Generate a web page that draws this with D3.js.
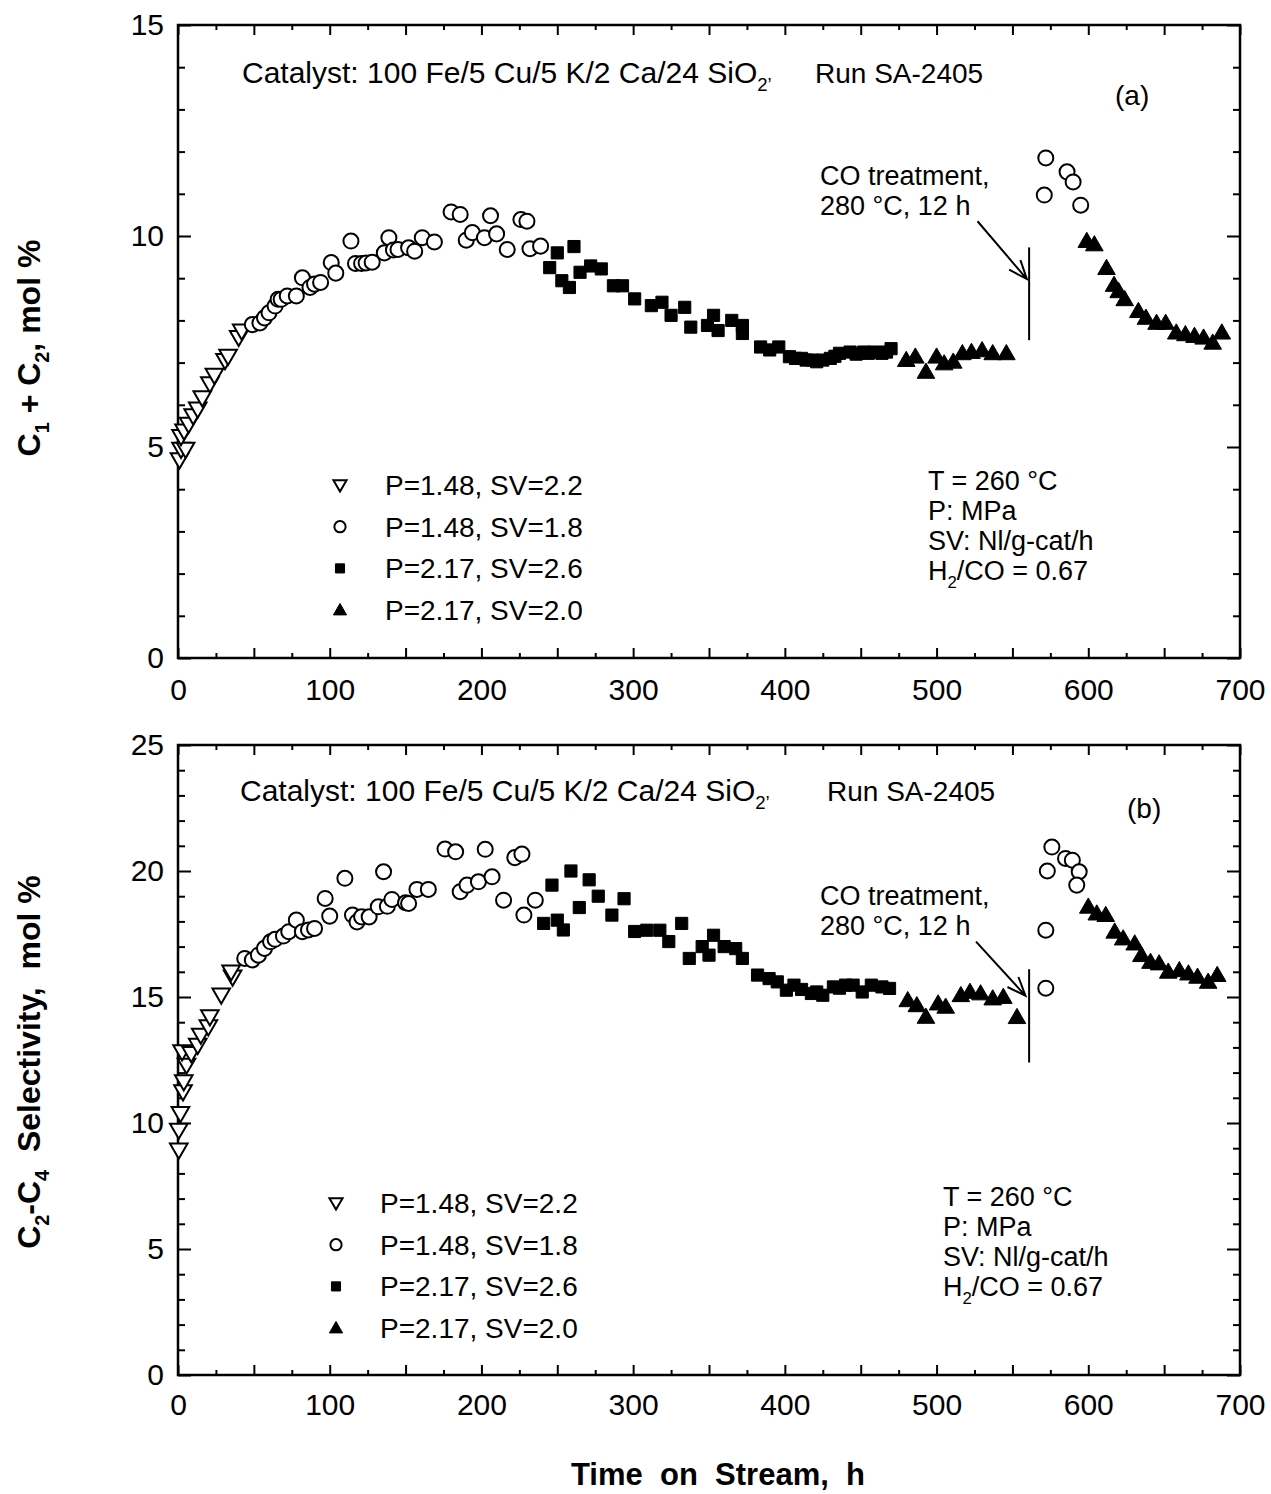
<!DOCTYPE html>
<html>
<head>
<meta charset="utf-8">
<script src="https://cdn.jsdelivr.net/npm/d3@7"></script>
<style>
  body { margin: 0; background: #fff; }
  svg { display: block; }
  text { font-family: "Liberation Sans", Arial, Helvetica, sans-serif; fill: #000; }
</style>
</head>
<body>
<svg id="chart" width="1271" height="1494"></svg>
<script>
// ── Data ─────────────────────────────────────────────────────────────────────
const xTickLabels = [0, 100, 200, 300, 400, 500, 600, 700];
const yTicksA = [0, 5, 10, 15];
const yTicksB = [0, 5, 10, 15, 20, 25];
const legendLabels = ["P=1.48, SV=2.2", "P=1.48, SV=1.8", "P=2.17, SV=2.6", "P=2.17, SV=2.0"];
const conditionLines = ["T = 260 °C", "P: MPa", "SV: Nl/g-cat/h", "H2/CO = 0.67"];

// panel (a): C1 + C2, mol %   [time on stream h, value]
const aSeries1 = [[1,4.7],[2,4.95],[5,4.95],[2,5.25],[4,5.38],[7,5.54],[10,5.74],[13,5.9],[16,6.17],
  [21,6.5],[24,6.7],[31,7.05],[33,7.15],[40,7.6],[42,7.75]];
const aSeries2 = [[49,7.9],[54,7.94],[57,8.06],[60,8.18],[64,8.34],[66,8.5],[68,8.5],[72,8.58],[78,8.58],
  [82,9.01],[87,8.78],[90,8.86],[94,8.9],[101,9.37],[104,9.12],[114,9.88],[117,9.35],[121,9.35],[124,9.36],
  [128,9.38],[136,9.6],[139,9.96],[142,9.67],[145,9.68],[152,9.72],[156,9.64],[161,9.96],[169,9.86],
  [180,10.57],[186,10.51],[190,9.9],[194,10.08],[202,9.96],[206,10.48],[210,10.05],[217,9.68],[226,10.39],
  [230,10.35],[232,9.7],[239,9.76],
  [572,11.85],[571,10.97],[586,11.52],[590,11.28],[595,10.73]];
const aSeries3 = [[245,9.25],[250,9.6],[253,8.94],[258,8.78],[261,9.75],[265,9.14],[272,9.29],[279,9.22],
  [287,8.82],[293,8.82],[301,8.51],[312,8.35],[319,8.43],[325,8.12],[334,8.31],[338,7.84],[349,7.88],
  [353,8.12],[356,7.76],[365,8.0],[372,7.88],[372,7.69],[384,7.37],[390,7.3],[396,7.37],[403,7.14],
  [407,7.1],[411,7.1],[414,7.06],[418,7.06],[421,7.02],[425,7.06],[430,7.1],[433,7.15],[436,7.22],
  [443,7.25],[447,7.2],[452,7.25],[455,7.22],[459,7.25],[464,7.22],[467,7.25],[470,7.33]];
const aSeries4 = [[480,7.06],[486,7.14],[493,6.78],[500,7.14],[505,6.98],[511,7.02],[517,7.22],[523,7.25],
  [530,7.29],[537,7.22],[546,7.22],
  [599,9.88],[604,9.8],[612,9.24],[617,8.84],[620,8.69],[624,8.5],[633,8.22],[638,8.06],[645,7.94],
  [651,7.94],[658,7.71],[664,7.67],[670,7.63],[676,7.59],[682,7.47],[688,7.71]];

// panel (b): C2-C4 selectivity, mol %
const bSeries1 = [[0.5,8.93],[0.5,9.72],[1.6,10.38],[3.3,11.24],[3.8,11.64],[5.6,12.3],[2.7,12.83],
  [8.7,12.76],[13,13.09],[15,13.49],[20,13.82],[21,14.22],[28.5,15.08],[36,15.8],[35,16.0]];
const bSeries2 = [[44,16.53],[49,16.47],[53,16.66],[57,16.93],[61,17.19],[64,17.29],[69.5,17.42],[73,17.59],
  [78,18.05],[82,17.59],[86,17.66],[90,17.72],[97,18.91],[100,18.21],[110,19.71],[115,18.25],[118,17.98],
  [121,18.18],[126,18.18],[132,18.58],[135.5,19.97],[138,18.6],[141,18.87],[150,18.74],[152,18.71],
  [157.5,19.27],[165,19.27],[176,20.87],[183,20.76],[186,19.18],[190.5,19.44],[198,19.57],[202.5,20.86],
  [207,19.77],[214.6,18.84],[222,20.53],[226.7,20.67],[228,18.25],[235.5,18.84],
  [576,20.95],[573,20.0],[585,20.5],[589.5,20.43],[594,19.97],[592.4,19.44],[572,17.65],[572,15.35]];
const bSeries3 = [[241,17.92],[246.5,19.44],[250,18.05],[254,17.66],[259,20.0],[264.5,18.55],[271,19.65],
  [277,19.0],[286,18.25],[294,18.9],[301,17.6],[309,17.65],[317.6,17.65],[323.5,17.2],[332,17.92],
  [337,16.53],[345.5,17.0],[350,16.66],[353,17.45],[360,17.0],[367.6,16.92],[372,16.53],[382,15.87],
  [389.6,15.73],[395,15.6],[401,15.27],[406,15.47],[411,15.3],[417.5,15.14],[421,15.2],[425,15.07],
  [432,15.4],[436,15.35],[440,15.47],[445,15.47],[451,15.2],[457,15.47],[464,15.4],[469,15.34]];
const bSeries4 = [[481,14.87],[487,14.67],[493,14.21],[501,14.74],[506,14.61],[516,15.07],[522,15.2],
  [529,15.14],[537,14.94],[544,15.0],[553,14.2],
  [600,18.58],[605.6,18.31],[611.5,18.25],[617.4,17.59],[623,17.32],[630.6,17.12],[635,16.66],
  [641,16.39],[646.7,16.33],[652.7,16.0],[660,16.06],[666,15.93],[672,15.8],[679,15.6],[685,15.87]];

// CO treatment marker: time, line from/to value, arrow tail/head [t, v]
const treatA = { t: 561, from: 7.53, to: 9.73, tail: [527, 10.35], head: [559.5, 8.98] };
const treatB = { t: 561, from: 12.4, to: 16.1, tail: [526, 17.2], head: [558.6, 15.05] };

// ── Drawing ──────────────────────────────────────────────────────────────────
const svg = d3.select("#chart");
const x = d3.scaleLinear().domain([0, 700]).range([178, 1240]);

const kinds = [
  { shape: "triDown", fill: "#fff" },
  { shape: "circle", fill: "#fff" },
  { shape: "square", fill: "#000" },
  { shape: "triUp", fill: "#000" },
];

function shapePath(shape, s) {
  if (shape === "triDown") return `M${-s * 0.55},${-s * 0.4}L${s * 0.55},${-s * 0.4}L0,${s * 0.55}Z`;
  if (shape === "triUp") return `M${-s * 0.55},${s * 0.4}L${s * 0.55},${s * 0.4}L0,${-s * 0.55}Z`;
  return `M${-s * 0.38},${-s * 0.38}h${s * 0.76}v${s * 0.76}h${-s * 0.76}Z`;
}

function drawMarker(g, kind, cx, cy, s) {
  if (kind.shape === "circle") {
    g.append("circle").attr("cx", cx).attr("cy", cy).attr("r", s * 0.47)
      .attr("fill", kind.fill).attr("stroke", "#000").attr("stroke-width", 2);
  } else {
    g.append("path").attr("transform", `translate(${cx},${cy})`).attr("d", shapePath(kind.shape, s))
      .attr("fill", kind.fill).attr("stroke", "#000")
      .attr("stroke-width", kind.fill === "#000" ? 1 : 2).attr("stroke-linejoin", "miter");
  }
}

// text with [string, isSubscript] parts
function richText(g, px, py, parts, size, opts = {}) {
  const t = g.append("text").attr("x", px).attr("y", py).attr("font-size", size);
  if (opts.weight) t.attr("font-weight", opts.weight);
  if (opts.anchor) t.attr("text-anchor", opts.anchor);
  if (opts.transform) t.attr("transform", opts.transform);
  let down = false;
  for (const [str, sub] of parts) {
    const ts = t.append("tspan").text(str);
    if (sub && !down) { ts.attr("font-size", size * 0.62).attr("dy", size * 0.28); down = true; }
    else if (!sub && down) { ts.attr("dy", -size * 0.28); down = false; }
    else if (sub) ts.attr("font-size", size * 0.62);
  }
  return t;
}

function drawPanel(cfg) {
  const y = d3.scaleLinear().domain([0, cfg.yMax]).range(cfg.yRange);
  const g = svg.append("g");

  // ticks (inward on all four sides)
  const tickStyle = (sel) => {
    sel.select(".domain").remove();
    sel.selectAll("line").attr("stroke", "#000").attr("stroke-width", 2);
    sel.selectAll("text").remove();
  };
  const xMajor = d3.range(0, 701, 50), xMinor = d3.range(25, 700, 50);
  const yMajor = d3.range(0, cfg.yMax + 1, 5), yMinor = d3.range(0, cfg.yMax + 1, 1).filter(v => v % 5);

  g.append("g").attr("transform", `translate(0,${y(0)})`)
    .call(d3.axisBottom(x).tickValues(xMajor).tickSize(-10)).call(tickStyle);
  g.append("g").attr("transform", `translate(0,${y(0)})`)
    .call(d3.axisBottom(x).tickValues(xMinor).tickSize(-5)).call(tickStyle);
  g.append("g").attr("transform", `translate(0,${y(cfg.yMax)})`)
    .call(d3.axisTop(x).tickValues(xMajor).tickSize(-10)).call(tickStyle);
  g.append("g").attr("transform", `translate(0,${y(cfg.yMax)})`)
    .call(d3.axisTop(x).tickValues(xMinor).tickSize(-5)).call(tickStyle);
  g.append("g").attr("transform", `translate(${x(0)},0)`)
    .call(d3.axisLeft(y).tickValues(yMajor).tickSize(-13)).call(tickStyle);
  g.append("g").attr("transform", `translate(${x(0)},0)`)
    .call(d3.axisLeft(y).tickValues(yMinor).tickSize(-7)).call(tickStyle);
  g.append("g").attr("transform", `translate(${x(700)},0)`)
    .call(d3.axisRight(y).tickValues(yMajor).tickSize(-13)).call(tickStyle);
  g.append("g").attr("transform", `translate(${x(700)},0)`)
    .call(d3.axisRight(y).tickValues(yMinor).tickSize(-7)).call(tickStyle);

  // frame
  g.append("rect").attr("x", x(0)).attr("y", y(cfg.yMax))
    .attr("width", x(700) - x(0)).attr("height", y(0) - y(cfg.yMax))
    .attr("fill", "none").attr("stroke", "#000").attr("stroke-width", 2.5);

  // tick labels
  const xl = g.append("g").attr("transform", `translate(0,${y(0)})`)
    .call(d3.axisBottom(x).tickValues(xTickLabels).tickSize(0).tickPadding(cfg.xPad).tickFormat(d3.format("d")));
  xl.select(".domain").remove();
  xl.selectAll("text").attr("font-size", 30).attr("font-family", null).attr("fill", "#000");

  const yl = g.append("g").attr("transform", `translate(${x(0)},0)`)
    .call(d3.axisLeft(y).tickValues(cfg.yTicks).tickSize(0).tickPadding(14).tickFormat(d3.format("d")));
  yl.select(".domain").remove();
  yl.selectAll("text").attr("font-size", 30).attr("font-family", null).attr("fill", "#000");

  // data
  const marks = g.append("g");
  cfg.series.forEach((data, i) => {
    for (const [t, v] of data) drawMarker(marks, kinds[i], x(t), y(v), 16);
  });

  // CO treatment line + arrow
  const tr = cfg.treat;
  g.append("line").attr("x1", x(tr.t)).attr("x2", x(tr.t)).attr("y1", y(tr.from)).attr("y2", y(tr.to))
    .attr("stroke", "#000").attr("stroke-width", 2);
  const [tx, ty] = [x(tr.tail[0]), y(tr.tail[1])];
  const [hx, hy] = [x(tr.head[0]), y(tr.head[1])];
  const ang = Math.atan2(hy - ty, hx - tx);
  const hl = 20, ha = 0.38;
  g.append("path")
    .attr("d", `M${tx},${ty}L${hx},${hy}` +
      `M${hx - hl * Math.cos(ang - ha)},${hy - hl * Math.sin(ang - ha)}L${hx},${hy}` +
      `L${hx - hl * Math.cos(ang + ha)},${hy - hl * Math.sin(ang + ha)}`)
    .attr("fill", "none").attr("stroke", "#000").attr("stroke-width", 2);

  // texts
  const L = cfg.labels;
  richText(g, L.catX, L.catY, [["Catalyst: 100 Fe/5 Cu/5 K/2 Ca/24 SiO", false], ["2’", true]], 30);
  g.append("text").attr("x", L.runX).attr("y", L.catY).attr("font-size", 28).text("Run SA-2405");
  g.append("text").attr("x", L.tagX).attr("y", L.tagY).attr("font-size", 28).text(cfg.tag);
  g.append("text").attr("x", 820).attr("y", L.coY).attr("font-size", 27).text("CO treatment,");
  g.append("text").attr("x", 820).attr("y", L.coY + 30).attr("font-size", 27).text("280 °C, 12 h");

  conditionLines.forEach((line, i) => {
    const yy = L.condY + i * 30;
    if (line.startsWith("H2")) richText(g, L.condX, yy, [["H", false], ["2", true], ["/CO = 0.67", false]], 27);
    else g.append("text").attr("x", L.condX).attr("y", yy).attr("font-size", 27).text(line);
  });

  legendLabels.forEach((lab, i) => {
    const cy = L.legY + i * 41.7;
    drawMarker(g, kinds[i], L.legSymX, cy, 12);
    g.append("text").attr("x", L.legTextX).attr("y", cy + 10).attr("font-size", 28).text(lab);
  });

  // y axis title
  richText(g, 0, 0, cfg.yTitle, 32, { weight: "bold", anchor: "middle",
    transform: `translate(40,${cfg.yTitleY}) rotate(-90)` });
}

drawPanel({
  yMax: 15, yRange: [658, 25], yTicks: yTicksA, xPad: 21, tag: "(a)",
  series: [aSeries1, aSeries2, aSeries3, aSeries4], treat: treatA,
  yTitle: [["C", false], ["1", true], [" + C", false], ["2", true], [", mol %", false]], yTitleY: 348,
  labels: { catX: 242, runX: 815, catY: 83, tagX: 1115, tagY: 105, coY: 185, condX: 928, condY: 490,
    legSymX: 340, legTextX: 385, legY: 485 },
});

drawPanel({
  yMax: 25, yRange: [1375, 745], yTicks: yTicksB, xPad: 19, tag: "(b)",
  series: [bSeries1, bSeries2, bSeries3, bSeries4], treat: treatB,
  yTitle: [["C", false], ["2", true], ["-C", false], ["4", true], ["\u00a0\u00a0Selectivity,\u00a0\u00a0mol %", false]],
  yTitleY: 1062,
  labels: { catX: 240, runX: 827, catY: 801, tagX: 1127, tagY: 818, coY: 905, condX: 943, condY: 1206,
    legSymX: 336, legTextX: 380, legY: 1203 },
});

svg.append("text").attr("x", 718).attr("y", 1485).attr("text-anchor", "middle")
  .attr("font-size", 31).attr("font-weight", "bold")
  .text("Time\u00a0\u00a0on\u00a0\u00a0Stream,\u00a0\u00a0h");
</script>
</body>
</html>
